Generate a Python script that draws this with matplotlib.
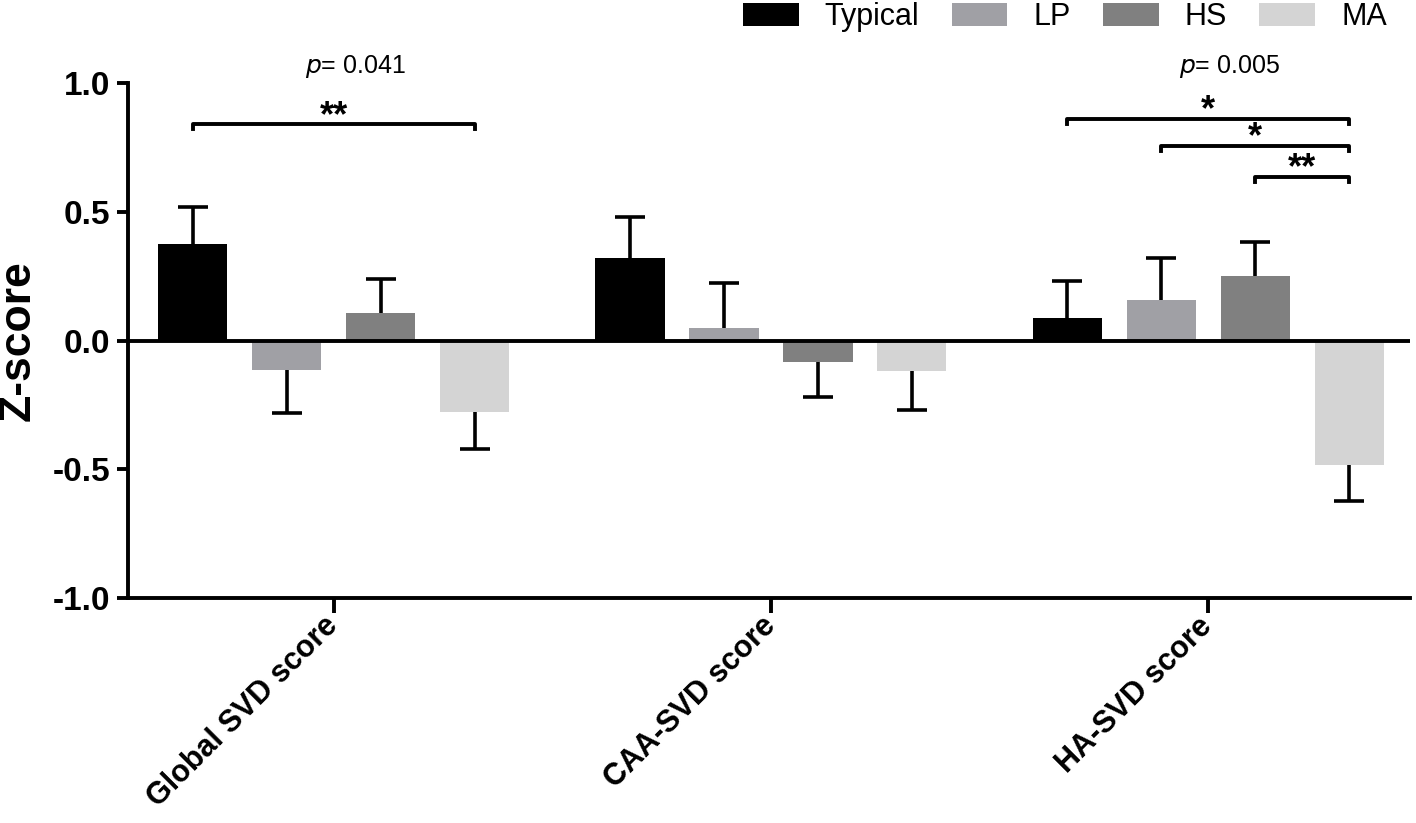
import numpy as np
import matplotlib.pyplot as plt

plt.rcParams["font.family"] = ["Liberation Sans", "DejaVu Sans"]

categories = ["Global SVD score", "CAA-SVD score", "HA-SVD score"]
groups = ["Typical", "LP", "HS", "MA"]
colors = ["#000000", "#a0a0a5", "#808080", "#d4d4d4"]

# mean z-scores per group for each score
means = {
    "Typical": [0.373, 0.322, 0.089],
    "LP": [-0.113, 0.050, 0.159],
    "HS": [0.105, -0.082, 0.252],
    "MA": [-0.276, -0.117, -0.482],
}
sems = {
    "Typical": [0.144, 0.156, 0.144],
    "LP": [0.167, 0.175, 0.163],
    "HS": [0.132, 0.136, 0.132],
    "MA": [0.147, 0.151, 0.143],
}

# significance brackets: (category index, group a, group b, height, label)
brackets = [
    (0, 0, 3, 0.84, "**"),
    (2, 0, 3, 0.862, "*"),
    (2, 1, 3, 0.757, "*"),
    (2, 2, 3, 0.637, "**"),
]
pvalues = [(0, "0.041"), (2, "0.005")]

fig = plt.figure(figsize=(14.16, 8.23), dpi=100)
ax = fig.add_axes([0.0904, 0.2734, 0.9054, 0.6257])

x = np.arange(len(categories))
step = 0.215
width = 0.158
cap = 0.035
offsets = (np.arange(len(groups)) - 1.5) * step

for i, g in enumerate(groups):
    m = np.array(means[g])
    s = np.array(sems[g])
    xs = x + offsets[i]
    tips = m + np.sign(m) * s
    ax.bar(xs, m, width, color=colors[i], label=g, zorder=2)
    # one-sided error bars, away from zero
    ax.vlines(xs, m, tips, color="black", lw=2.6, zorder=1)
    ax.hlines(tips, xs - cap, xs + cap, color="black", lw=2.6, zorder=1)

ax.axhline(0, color="black", lw=2.8, zorder=4)

for ci, a, b, h, lab in brackets:
    x0 = x[ci] + offsets[a]
    x1 = x[ci] + offsets[b]
    ax.plot([x0, x0, x1, x1], [h - 0.02, h, h, h - 0.02], color="black",
            lw=2.8, clip_on=False, zorder=5)
    ax.text((x0 + x1) / 2, h - 0.008, lab, ha="center", va="baseline",
            fontsize=26, fontweight="bold")

for ci, p in pvalues:
    ax.text(x[ci] + 0.05, 1.065, r"$\it{p}$= " + p, ha="center",
            va="center", fontsize=18)

ax.set_xlim(-0.471, 2.462)
ax.set_ylim(-1.0, 1.0)
ax.set_yticks([-1.0, -0.5, 0.0, 0.5, 1.0])
ax.set_yticklabels(["-1.0", "-0.5", "0.0", "0.5", "1.0"], fontsize=24,
                   fontweight="bold")
ax.set_xticks(x)
ax.set_xticklabels(categories, rotation=45, ha="right", va="center",
                   rotation_mode="anchor", fontsize=22, fontweight="bold")
ax.set_ylabel("Z-score", fontsize=32, fontweight="bold", labelpad=10)

for side in ["top", "right"]:
    ax.spines[side].set_visible(False)
for side in ["left", "bottom"]:
    ax.spines[side].set_linewidth(2.8)
ax.tick_params(axis="both", width=2.8, length=8, pad=5)
ax.tick_params(axis="x", length=11, pad=6)

ax.legend(loc="upper right", bbox_to_anchor=(0.988, 1.012),
          bbox_transform=fig.transFigure, ncol=4, frameon=False,
          fontsize=22, handlelength=1.83, handleheight=0.8,
          columnspacing=1.05, handletextpad=0.85, borderaxespad=0.0)

fig.savefig("out.png", dpi=100)
